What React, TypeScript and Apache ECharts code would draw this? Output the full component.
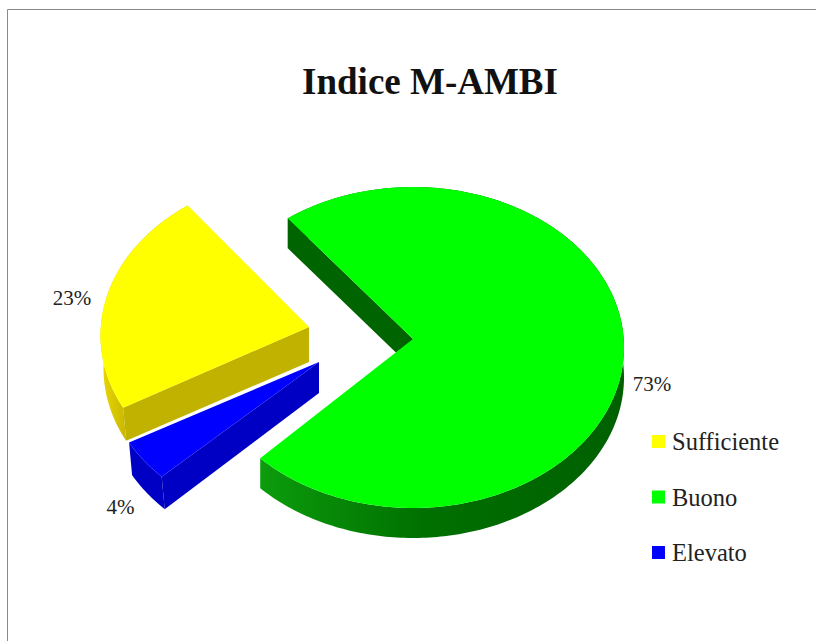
import React, { useEffect, useRef } from "react";
import * as echarts from "echarts";

const title = "Indice M-AMBI";
// clockwise slice order, starting from the pie's start angle
const categories = ["Buono", "Elevato", "Sufficiente"];
const values = [73, 4, 23];
const legendOrder = ["Sufficiente", "Buono", "Elevato"];

const FONT = '"Liberation Serif", "Times New Roman", serif';
const START_DEG = -36.4;
const RX = 211;
const RY = 160.5;

// warp: small perspective correction of each slice's two edge angles, in degrees
const looks: Record<string, any> = {
  Buono: {
    color: "#00ff00",
    center: [413, 347.5], vertex: [413, 339], depth: [0, 30], outerDepth: [0, 30], warp: [0, 0],
    outer: [[0, "#0c9c0c"], [0.45, "#007000"], [1, "#006000"]],
    cutWall: "#006400",
    label: [652, 384],
  },
  Elevato: {
    color: "#0000ff",
    center: [314.5, 366], vertex: [319, 362], depth: [0, 31], outerDepth: [3, 32.5], warp: [0, 0.7],
    outer: [[0, "#0000c4"], [1, "#0000c4"]],
    cutWall: "#0000c4",
    label: [120.5, 507],
  },
  Sufficiente: {
    color: "#ffff00",
    center: [311.5, 335.5], vertex: [309, 327], depth: [0, 35], outerDepth: [3, 33], warp: [2.4, 0.5],
    outer: [[0, "#ead900"], [0.28, "#c8b800"], [1, "#c0b000"]],
    cutWall: "#c2b200",
    label: [72, 298],
  },
};

const total = values.reduce((a, b) => a + b, 0);

function renderSlice(params: any, api: any) {
  const index = params.seriesIndex;
  const name = categories[index];
  const look = looks[name];
  const value = api.value(0);
  const before = values.slice(0, index).reduce((a, b) => a + b, 0);
  const a0 = START_DEG + (before / total) * 360 + look.warp[0];
  const a1 = START_DEG + ((before + value) / total) * 360 + look.warp[1];

  const arc: number[][] = [];
  const steps = Math.max(4, Math.ceil(a1 - a0));
  for (let i = 0; i <= steps; i++) {
    const t = ((a0 + ((a1 - a0) * i) / steps) * Math.PI) / 180;
    arc.push([look.center[0] + RX * Math.sin(t), look.center[1] - RY * Math.cos(t)]);
  }
  const first = arc[0];
  const V = look.vertex;
  const Vb = [V[0] + look.depth[0], V[1] + look.depth[1]];
  const low = (p: number[]) => [p[0] + look.outerDepth[0], p[1] + look.outerDepth[1]];
  const children: any[] = [];

  // outer curved wall
  children.push({
    type: "polygon",
    shape: { points: [...arc, ...arc.map(low).reverse()] },
    style: {
      fill: {
        type: "linear", x: 0, y: 0, x2: 1, y2: 0,
        colorStops: look.outer.map((s: any) => ({ offset: s[0], color: s[1] })),
      },
    },
  });
  // cut wall along the slice's first radial edge
  children.push({
    type: "polygon",
    shape: { points: [V, first, low(first), Vb] },
    style: { fill: look.cutWall },
  });
  // top face
  children.push({
    type: "polygon",
    shape: { points: [V, ...arc] },
    style: { fill: look.color },
  });
  // percentage label
  children.push({
    type: "text",
    x: look.label[0],
    y: look.label[1],
    style: {
      text: `${value}%`,
      font: `21px ${FONT}`,
      fill: "#222222",
      align: "center",
      verticalAlign: "middle",
    },
  });
  return { type: "group", children };
}

export default function App() {
  const ref = useRef<HTMLDivElement>(null);
  useEffect(() => {
    const chart = echarts.init(ref.current!, undefined, { renderer: "svg" });
    chart.setOption({
      animation: false,
      backgroundColor: "#ffffff",
      title: {
        text: title,
        left: 430,
        top: 81,
        textAlign: "center",
        textVerticalAlign: "middle",
        padding: 0,
        textStyle: { fontFamily: FONT, fontWeight: "bold", fontSize: 37, color: "#111111" },
      },
      legend: {
        orient: "vertical",
        left: 652,
        top: 429,
        padding: 0,
        icon: "rect",
        itemWidth: 13,
        itemHeight: 13,
        itemGap: 30.5,
        selectedMode: false,
        data: legendOrder,
        textStyle: { fontFamily: FONT, fontSize: 24.5, color: "#222222", padding: [0, 0, 0, 2] },
      },
      graphic: [
        { type: "line", silent: true, shape: { x1: 7.5, y1: 9.5, x2: 816, y2: 9.5 }, style: { stroke: "#8a8a8a", lineWidth: 1 } },
        { type: "line", silent: true, shape: { x1: 7.5, y1: 9.5, x2: 7.5, y2: 641 }, style: { stroke: "#8a8a8a", lineWidth: 1 } },
      ],
      series: categories.map((name, i) => ({
        type: "custom",
        name,
        coordinateSystem: "none",
        silent: true,
        itemStyle: { color: looks[name].color },
        data: [[values[i]]],
        renderItem: renderSlice,
      })),
    });
    return () => chart.dispose();
  }, []);
  return <div ref={ref} style={{ position: "fixed", left: 0, top: 0, width: 816, height: 641 }} />;
}
